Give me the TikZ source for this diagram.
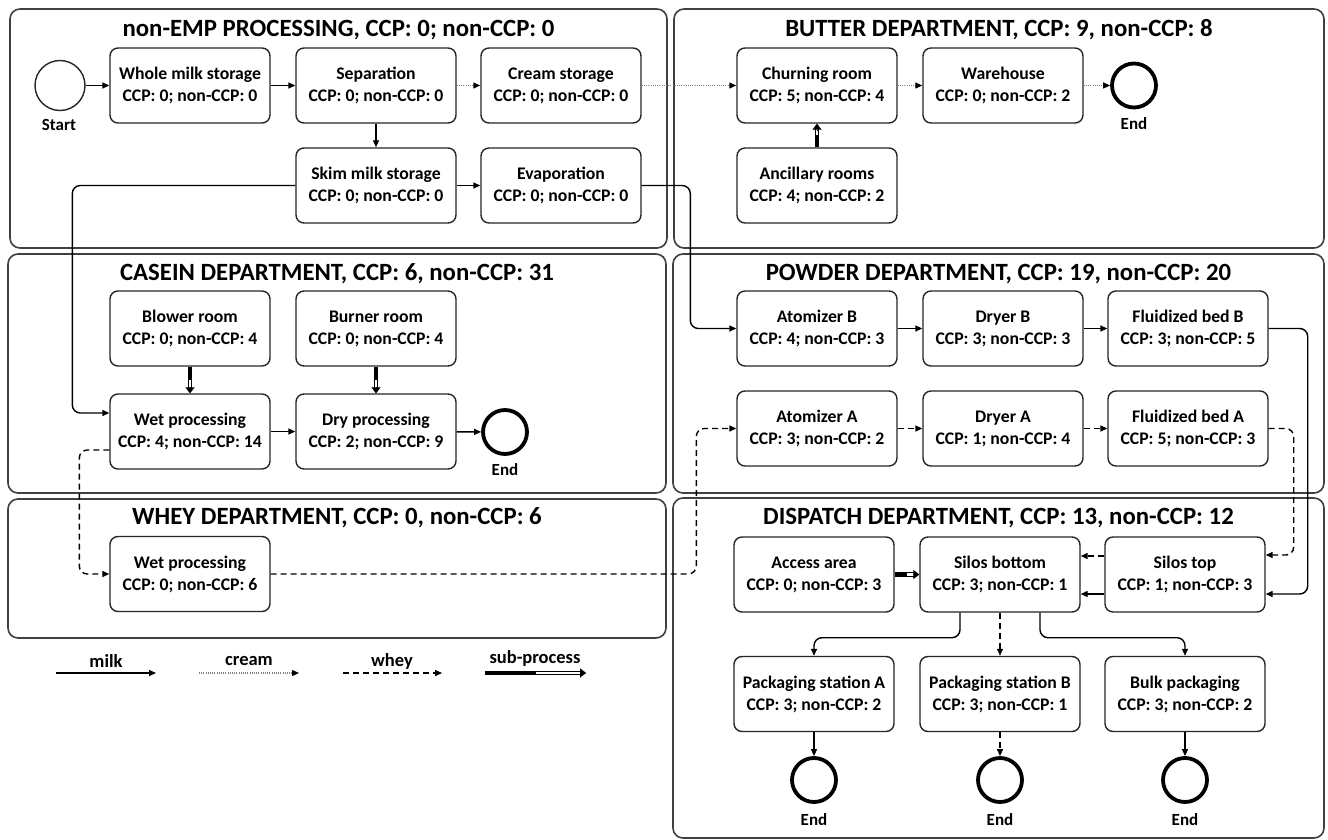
\documentclass[tikz,border=0pt]{standalone}
\usepackage{fontspec}
\setmainfont{Carlito}
\usetikzlibrary{arrows.meta,calc}
\tikzset{
  panel/.style={draw=black!75, line width=1.6pt, rounded corners=10pt},
  ptitle/.style={font=\fontsize{24.8}{28}\selectfont\bfseries, inner sep=0pt},
  box/.style={draw=black!85, line width=1.4pt, rounded corners=8pt, minimum width=160pt, minimum height=75pt, align=center, inner sep=0pt, font=\fontsize{17.7}{22}\selectfont\bfseries},
  tip/.style={-{Triangle[length=7pt,width=6pt,color=black]}},
  milk/.style={line width=1.4pt, tip},
  cream/.style={line width=1.2pt, draw=black!50, dash pattern=on 1pt off 1.2pt, tip},
  whey/.style={line width=1.4pt, dash pattern=on 6pt off 4pt, tip},
  evstart/.style={circle, draw=black!85, line width=1.4pt, minimum size=50pt, inner sep=0pt},
  evend/.style={circle, draw=black, line width=3.8pt, minimum size=44pt, inner sep=0pt},
  evlab/.style={font=\fontsize{17}{19}\selectfont\bfseries, inner sep=0pt},
  leglab/.style={font=\fontsize{18.5}{20}\selectfont\bfseries, inner sep=0pt},
}
\newcommand{\subproc}[2]{%
  \coordinate (spm) at ($(#1)!0.5!(#2)$);
  \draw[line width=4.5pt] (#1) -- (spm);
  \draw[double=white, double distance=2.5pt, line width=1pt, shorten >=5pt] (spm) -- (#2);
  \draw[-{Triangle[length=6pt,width=9pt]}, line width=0.1pt] ($(#2)!6pt!(spm)$) -- (#2);
}
\begin{document}
\begin{tikzpicture}[x=1pt, y=-1pt]
\useasboundingbox (0,0) rectangle (1328,840);
\fill[white] (0,0) rectangle (1328,840);
% panels
\draw[panel] (10,9) rectangle (667,248);
\draw[panel] (674,9) rectangle (1324,248);
\draw[panel] (8,254) rectangle (666,493);
\draw[panel] (8,499) rectangle (666,638);
\draw[panel] (673,254) rectangle (1324,493);
\draw[panel] (673,498) rectangle (1324,838);
\node[ptitle] (t1) at (338.5,30) {non-EMP PROCESSING, CCP: 0; non-CCP: 0};
\node[ptitle] (t2) at (999,30) {BUTTER DEPARTMENT, CCP: 9, non-CCP: 8};
\node[ptitle] (t3) at (337,274) {CASEIN DEPARTMENT, CCP: 6, non-CCP: 31};
\node[ptitle] (t4) at (998.5,274) {POWDER DEPARTMENT, CCP: 19, non-CCP: 20};
\node[ptitle] (t5) at (337,518) {WHEY DEPARTMENT, CCP: 0, non-CCP: 6};
\node[ptitle] (t6) at (998.5,518) {DISPATCH DEPARTMENT, CCP: 13, non-CCP: 12};
% non-EMP
\node[evstart] (start) at (60,85.5) {};
\node[evlab] (startl) at (59,125) {Start};
\node[box] (wms) at (190,85.5) {Whole milk storage\\CCP: 0; non-CCP: 0};
\node[box] (sep) at (376,85.5) {Separation\\CCP: 0; non-CCP: 0};
\node[box] (cst) at (561,85.5) {Cream storage\\CCP: 0; non-CCP: 0};
\node[box] (skim) at (376,185.5) {Skim milk storage\\CCP: 0; non-CCP: 0};
\node[box] (evap) at (561,185.5) {Evaporation\\CCP: 0; non-CCP: 0};
% butter
\node[box] (churn) at (817,85.5) {Churning room\\CCP: 5; non-CCP: 4};
\node[box] (ware) at (1003,85.5) {Warehouse\\CCP: 0; non-CCP: 2};
\node[evend] (endb) at (1134,85.5) {};
\node[evlab] (endbl) at (1134,124) {End};
\node[box] (anc) at (817,185.5) {Ancillary rooms\\CCP: 4; non-CCP: 2};
% casein
\node[box] (blower) at (190,328.5) {Blower room\\CCP: 0; non-CCP: 4};
\node[box] (burner) at (376,328.5) {Burner room\\CCP: 0; non-CCP: 4};
\node[box] (wetc) at (190,431.5) {Wet processing\\CCP: 4; non-CCP: 14};
\node[box] (dry) at (376,431.5) {Dry processing\\CCP: 2; non-CCP: 9};
\node[evend] (endc) at (505,432) {};
\node[evlab] (endcl) at (505,470) {End};
% whey
\node[box] (wetw) at (190,574) {Wet processing\\CCP: 0; non-CCP: 6};
% powder
\node[box] (atomB) at (817,328.5) {Atomizer B\\CCP: 4; non-CCP: 3};
\node[box] (dryB) at (1003,328.5) {Dryer B\\CCP: 3; non-CCP: 3};
\node[box] (fluB) at (1188,328.5) {Fluidized bed B\\CCP: 3; non-CCP: 5};
\node[box] (atomA) at (817,428.5) {Atomizer A\\CCP: 3; non-CCP: 2};
\node[box] (dryA) at (1003,428.5) {Dryer A\\CCP: 1; non-CCP: 4};
\node[box] (fluA) at (1188,428.5) {Fluidized bed A\\CCP: 5; non-CCP: 3};
% dispatch
\node[box] (access) at (814,574.5) {Access area\\CCP: 0; non-CCP: 3};
\node[box] (silB) at (1000,574.5) {Silos bottom\\CCP: 3; non-CCP: 1};
\node[box] (silT) at (1185,574.5) {Silos top\\CCP: 1; non-CCP: 3};
\node[box] (packA) at (814,694) {Packaging station A\\CCP: 3; non-CCP: 2};
\node[box] (packB) at (1000,694) {Packaging station B\\CCP: 3; non-CCP: 1};
\node[box] (bulk) at (1185,694) {Bulk packaging\\CCP: 3; non-CCP: 2};
\node[evend] (e1) at (814,780) {};
\node[evend] (e2) at (1000,780) {};
\node[evend] (e3) at (1185,780) {};
\node[evlab] (e1l) at (814,820) {End};
\node[evlab] (e2l) at (1000,820) {End};
\node[evlab] (e3l) at (1185,820) {End};
% connectors non-EMP / butter
\draw[milk] (start) -- (wms);
\draw[milk] (wms) -- (sep);
\draw[cream] (sep) -- (cst);
\draw[milk] (sep) -- (skim);
\draw[milk] (skim) -- (evap);
\draw[cream] (cst) -- (churn);
\draw[cream] (churn) -- (ware);
\draw[cream] (ware) -- (endb);
\subproc{anc.north}{churn.south}
\draw[milk, rounded corners=8pt] (skim.west) -| ($(wetc.west)+(-37,-18.5)$) -- ([yshift=18.5pt]wetc.west);
\draw[milk, rounded corners=8pt] (evap.east) -| ($(atomB.west)+(-46,0)$) -- (atomB.west);
% casein
\subproc{blower.south}{wetc.north}
\subproc{burner.south}{dry.north}
\draw[milk] (wetc) -- (dry);
\draw[milk] (dry) -- (endc);
\draw[whey, rounded corners=8pt] ([yshift=-18.5pt]wetc.west) -| ($(wetw.west)+(-30,0)$) -- (wetw.west);
\draw[whey, rounded corners=8pt] (wetw.east) -| ($(atomA.west)+(-40,0)$) -- (atomA.west);
% powder
\draw[milk] (atomB) -- (dryB);
\draw[milk] (dryB) -- (fluB);
\draw[whey] (atomA) -- (dryA);
\draw[whey] (dryA) -- (fluA);
\draw[whey, rounded corners=8pt] (fluA.east) -| ($(silT.east)+(28,-19.5)$) -- ([yshift=19.5pt]silT.east);
\draw[milk, rounded corners=8pt] (fluB.east) -| ($(silT.east)+(42,19.5)$) -- ([yshift=-19.5pt]silT.east);
% dispatch
\draw[whey] ([yshift=18.5pt]silT.west) -- ([yshift=18.5pt]silB.east);
\draw[milk] ([yshift=-19.5pt]silT.west) -- ([yshift=-19.5pt]silB.east);
\subproc{access.east}{silB.west}
\draw[milk, rounded corners=8pt] ([xshift=-40pt]silB.south) -- ++(0,25) -| (packA.north);
\draw[whey] (silB.south) -- (packB.north);
\draw[milk, rounded corners=8pt] ([xshift=40pt]silB.south) -- ++(0,25) -| (bulk.north);
\draw[milk] (packA) -- (e1);
\draw[whey] (packB) -- (e2);
\draw[milk] (bulk) -- (e3);
% legend
\coordinate (lm1) at (56,673); \coordinate (lm2) at (156,673);
\coordinate (lc1) at (199,673); \coordinate (lc2) at (299,673);
\coordinate (lw1) at (343,673); \coordinate (lw2) at (442,673);
\coordinate (ls1) at (485,673); \coordinate (ls2) at (586,673);
\draw[milk] (lm1) -- (lm2);
\draw[cream] (lc1) -- (lc2);
\draw[whey] (lw1) -- (lw2);
\subproc{ls1}{ls2}
\node[leglab] (lgm) at (106,661) {milk};
\node[leglab] (lgc) at (249,661) {cream};
\node[leglab] (lgw) at (392,661) {whey};
\node[leglab] (lgs) at (535,658) {sub-process};
\end{tikzpicture}
\end{document}
